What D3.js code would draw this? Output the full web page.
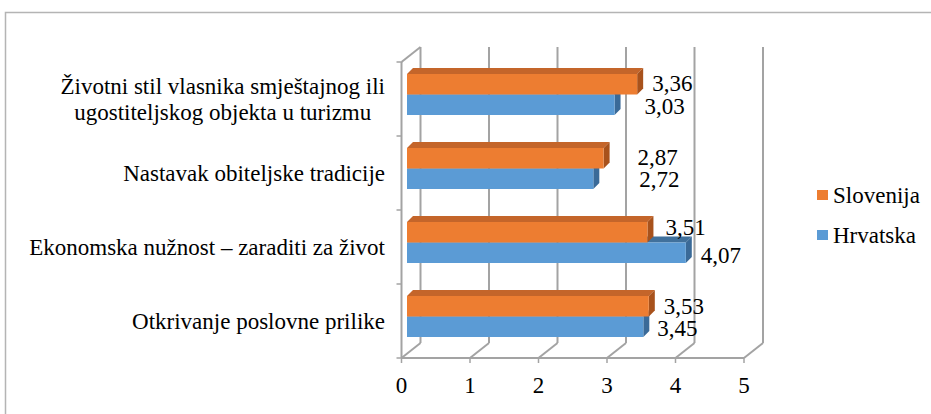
<!DOCTYPE html>
<html>
<head>
<meta charset="utf-8">
<script src="https://cdn.jsdelivr.net/npm/d3@7"></script>
<style>
  html, body { margin: 0; padding: 0; background: #fff; }
  svg { display: block; }
  text { font-family: "Liberation Serif", "Times New Roman", Times, serif; font-size: 23px; fill: #000; }
</style>
</head>
<body>
<div id="chart"></div>
<script>
// categories from top to bottom, split into lines as shown on the chart
const categories = ["Zivotni", "Nastavak", "Ekonomska", "Otkrivanje"];
const categoryLines = [
  ["Životni stil vlasnika smještajnog ili", "ugostiteljskog objekta u turizmu"],
  ["Nastavak obiteljske tradicije"],
  ["Ekonomska nužnost – zaraditi za život"],
  ["Otkrivanje poslovne prilike"]
];
const seriesNames = ["Slovenija", "Hrvatska"];
const slovenija = [3.36, 2.87, 3.51, 3.53];
const hrvatska = [3.03, 2.72, 4.07, 3.45];
const xTicks = [0, 1, 2, 3, 4, 5];

// layout
const W = 931, H = 414;
const depth = { dx: 19, dy: -15 };     // 3d wall depth
const barDepth = { dx: 6, dy: -6 };    // bar thickness
const barShift = 5.5;                   // bars sit a bit into the depth
const gridColor = "#a3a3a3";
const colors = {
  Slovenija: { front: "#ed7d31", top: "#c4652a", side: "#a8521c" },
  Hrvatska: { front: "#5b9bd5", top: "#41719c", side: "#3a6a98" }
};
// label nudges [slovenija, hrvatska]: px right of the bar end, and baseline below bar middle
const labelNudge = [[15, 30], [34, 46], [18, 15], [15, 14]];
const labelNudgeY = [[7, 9], [7, 8], [2.5, 10], [8, 9.5]];

const svg = d3.select("#chart").append("svg")
  .attr("width", W)
  .attr("height", H);

// outer frame
svg.append("rect")
  .attr("x", 5.5).attr("y", 12.5)
  .attr("width", W).attr("height", H)
  .attr("fill", "none")
  .attr("stroke", "#b4b4b4")
  .attr("stroke-width", 1.5);

const x = d3.scaleLinear().domain([0, 5]).range([401.5, 744]);
const y = d3.scaleBand().domain(categories).range([62, 358]);

const g = svg.append("g");

// back wall verticals + floor diagonals
xTicks.forEach(t => {
  const fx = x(t), bx = x(t) + depth.dx;
  g.append("line")
    .attr("x1", bx).attr("y1", y.range()[0] + depth.dy)
    .attr("x2", bx).attr("y2", y.range()[1] + depth.dy)
    .attr("stroke", gridColor).attr("stroke-width", 2);
  g.append("line")
    .attr("x1", fx).attr("y1", y.range()[1])
    .attr("x2", bx).attr("y2", y.range()[1] + depth.dy)
    .attr("stroke", gridColor).attr("stroke-width", 2);
  // tick mark
  g.append("line")
    .attr("x1", fx).attr("y1", y.range()[1])
    .attr("x2", fx).attr("y2", y.range()[1] + 5)
    .attr("stroke", gridColor).attr("stroke-width", 1.5);
  // tick label
  g.append("text")
    .attr("x", fx).attr("y", 393)
    .attr("text-anchor", "middle")
    .text(t);
});

// left wall
const x0 = x(0);
g.append("line")
  .attr("x1", x0).attr("y1", y.range()[0])
  .attr("x2", x0).attr("y2", y.range()[1])
  .attr("stroke", gridColor).attr("stroke-width", 2);
g.append("line")
  .attr("x1", x0).attr("y1", y.range()[0])
  .attr("x2", x0 + depth.dx).attr("y2", y.range()[0] + depth.dy)
  .attr("stroke", gridColor).attr("stroke-width", 2);
g.append("line")
  .attr("x1", x0).attr("y1", y.range()[1])
  .attr("x2", x(5)).attr("y2", y.range()[1])
  .attr("stroke", gridColor).attr("stroke-width", 2);

// left ticks at category boundaries
d3.range(categories.length + 1).forEach(i => {
  const yy = y.range()[0] + i * y.step();
  g.append("line")
    .attr("x1", x0 - 5).attr("y1", yy)
    .attr("x2", x0).attr("y2", yy)
    .attr("stroke", gridColor).attr("stroke-width", 1.5);
});

// category labels, right aligned, wrapped lines centred on each other
categories.forEach((c, i) => {
  const lines = categoryLines[i];
  const cy = y(c) + y.bandwidth() / 2;
  const lh = 26;
  const t = g.append("text")
    .attr("text-anchor", "middle");
  const spans = lines.map((ln, k) => t.append("tspan")
    .attr("y", cy + 8 + (k - (lines.length - 1) / 2) * lh)
    .text(ln));
  const maxW = d3.max(spans, s => s.node().getComputedTextLength());
  spans.forEach(s => s.attr("x", 385 - maxW / 2));
});

const fmt = d3.formatLocale({ decimal: ",", thousands: ".", grouping: [3], currency: ["", ""] }).format(".2f");

// 3d bars: blue drawn first so the orange one above covers its top face
const barH = 20.5;
categories.forEach((c, i) => {
  const topO = y(c) + 12;
  const bars = [
    { name: "Hrvatska", v: hrvatska[i], top: topO + barH, k: 1 },
    { name: "Slovenija", v: slovenija[i], top: topO, k: 0 }
  ];
  bars.forEach(b => {
    const col = colors[b.name];
    const bx0 = x(0) + barShift, bx1 = x(b.v) + barShift;
    const t = b.top, bt = b.top + barH;
    // top face
    g.append("path")
      .attr("d", `M${bx0},${t}L${bx1},${t}L${bx1 + barDepth.dx},${t + barDepth.dy}L${bx0 + barDepth.dx},${t + barDepth.dy}Z`)
      .attr("fill", col.top);
    // side face
    g.append("path")
      .attr("d", `M${bx1},${t}L${bx1 + barDepth.dx},${t + barDepth.dy}L${bx1 + barDepth.dx},${bt + barDepth.dy}L${bx1},${bt}Z`)
      .attr("fill", col.side);
    // front face
    g.append("rect")
      .attr("x", bx0).attr("y", t)
      .attr("width", bx1 - bx0).attr("height", barH)
      .attr("fill", col.front);
  });
  bars.forEach(b => {
    g.append("text")
      .attr("x", x(b.v) + barShift + labelNudge[i][b.k])
      .attr("y", b.top + barH / 2 + labelNudgeY[i][b.k])
      .text(fmt(b.v));
  });
});

// legend
seriesNames.forEach((s, i) => {
  const ly = 190 + i * 40;
  svg.append("rect")
    .attr("x", 817).attr("y", ly)
    .attr("width", 11).attr("height", 10)
    .attr("fill", colors[s].front);
  svg.append("text")
    .attr("x", 833).attr("y", ly + 13)
    .text(s);
});
</script>
</body>
</html>
